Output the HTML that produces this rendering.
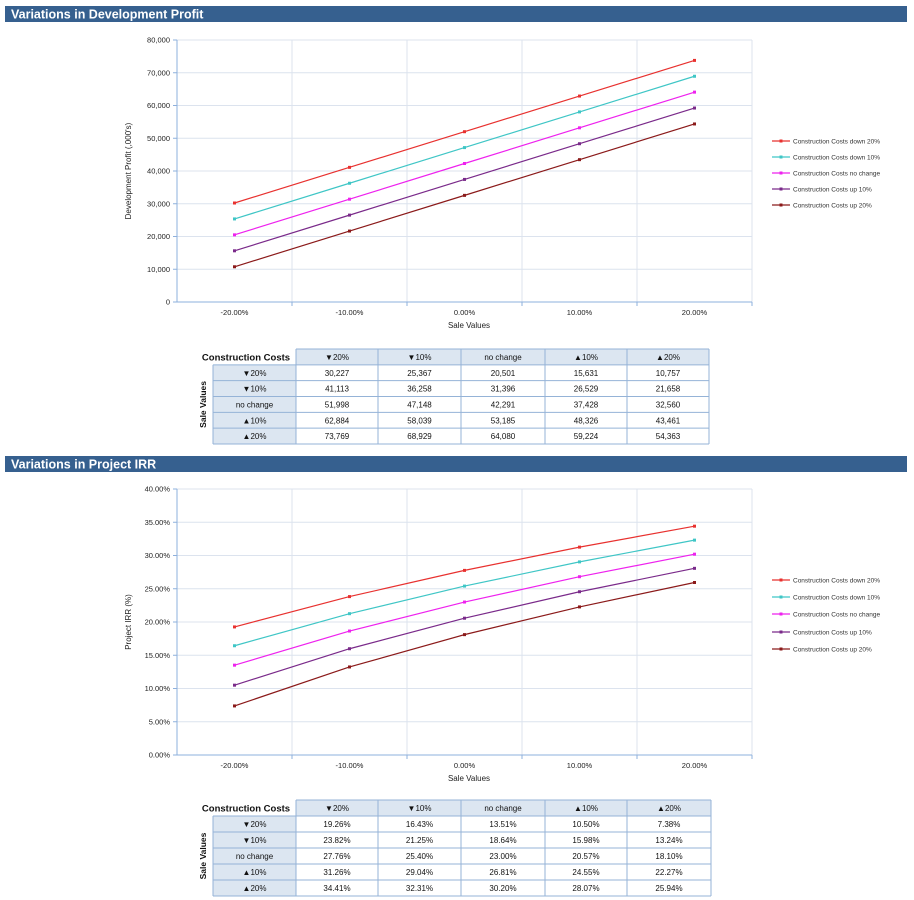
<!DOCTYPE html>
<html><head><meta charset="utf-8"><style>
body{margin:0;background:#fff;width:914px;height:900px;overflow:hidden;font-family:"Liberation Sans",Arial,sans-serif}
svg{position:absolute;left:0;top:0}
</style></head><body>
<svg id="s" width="914" height="900" xmlns="http://www.w3.org/2000/svg" font-family="Liberation Sans, Arial, sans-serif"></svg>
<script>
const categories=["-20.00%","-10.00%","0.00%","10.00%","20.00%"];
const seriesNames=["Construction Costs down 20%","Construction Costs down 10%","Construction Costs no change","Construction Costs up 10%","Construction Costs up 20%"];
const colors=["#e8312f","#3fc6c6","#ee22ee","#7a2a8a","#8b1a1a"];
const profitDown20=[30227,41113,51998,62884,73769];
const profitDown10=[25367,36258,47148,58039,68929];
const profitNoChange=[20501,31396,42291,53185,64080];
const profitUp10=[15631,26529,37428,48326,59224];
const profitUp20=[10757,21658,32560,43461,54363];
const irrDown20=[19.26,23.82,27.76,31.26,34.41];
const irrDown10=[16.43,21.25,25.40,29.04,32.31];
const irrNoChange=[13.51,18.64,23.00,26.81,30.20];
const irrUp10=[10.50,15.98,20.57,24.55,28.07];
const irrUp20=[7.38,13.24,18.10,22.27,25.94];
const profitTicks=[0,10000,20000,30000,40000,50000,60000,70000,80000];
const irrTicks=[0,5,10,15,20,25,30,35,40];
const colHeads=["▼20%","▼10%","no change","▲10%","▲20%"];
const rowHeads=["▼20%","▼10%","no change","▲10%","▲20%"];

const S=document.getElementById('s');const NS="http://www.w3.org/2000/svg";
function mk(t,a,p){const e=document.createElementNS(NS,t);for(const k in a)e.setAttribute(k,a[k]);(p||S).appendChild(e);return e;}
function txt(x,y,s,a,p){const e=mk('text',Object.assign({x:x,y:y},a),p);e.textContent=s;return e;}

function header(y,title,name){
  const g=mk('g',{});
  mk('rect',{x:5,y:y,width:902,height:16,fill:'#36608f'},g);
  txt(11,y+12.5,title,{fill:'#fff','font-size':'12.5','font-weight':'bold'},g);
}
function chart(o){
  const g=mk('g',{});
  const L=177,R=752,T=o.top,B=o.bottom,bw=(R-L)/categories.length;
  const xs=i=>L+bw*(i+0.5);const ys=v=>B-(v-o.ticks[0])/(o.ticks[o.ticks.length-1]-o.ticks[0])*(B-T);
  o.ticks.forEach(t=>{const y=ys(t);
    if(t>o.ticks[0])mk('line',{x1:L,x2:R,y1:y,y2:y,stroke:'#dce3ee','stroke-width':1},g);
    mk('line',{x1:L-4,x2:L,y1:y,y2:y,stroke:'#8eb0dc'},g);
    const tl=txt(170,y+2.5,o.fmt(t),{'text-anchor':'end','font-size':'7.5',fill:'#222'},g);
    });
  for(let i=1;i<=categories.length;i++){const x=L+bw*i;mk('line',{x1:x,x2:x,y1:T,y2:B,stroke:'#dce3ee'},g);mk('line',{x1:x,x2:x,y1:B,y2:B+4,stroke:'#8eb0dc'},g);}
  mk('line',{x1:L,x2:L,y1:T,y2:B,stroke:'#8eb0dc'},g);
  mk('line',{x1:L,x2:R,y1:B,y2:B,stroke:'#8eb0dc'},g);
  categories.forEach((c,i)=>{const tl=txt(xs(i),B+13,c,{'text-anchor':'middle','font-size':'7.5',fill:'#222'},g);
    });
  const xt=txt(469,B+26,'Sale Values',{'text-anchor':'middle','font-size':'8',fill:'#222'},g);
  
  const yc=(T+B)/2;
  const yt=txt(131,yc,o.ytitle,{'text-anchor':'middle','font-size':'8',fill:'#222',transform:`rotate(-90 131 ${yc})`},g);
  
  o.series.forEach((arr,si)=>{
    const pts=arr.map((v,i)=>xs(i)+','+ys(v)).join(' ');
    const pl=mk('polyline',{points:pts,fill:'none',stroke:colors[si],'stroke-width':1.2},g);
    
    arr.forEach((v,i)=>{const m=mk('rect',{x:xs(i)-1.5,y:ys(v)-1.5,width:3,height:3,fill:colors[si]},g);
      });
    const ly=o.legY[si];
    const le=mk('g',{},g);
    mk('line',{x1:772,x2:790,y1:ly,y2:ly,stroke:colors[si],'stroke-width':1.2},le);
    mk('rect',{x:779.5,y:ly-1.5,width:3,height:3,fill:colors[si]},le);
    txt(793,ly+2.3,seriesNames[si],{'font-size':'6.5',fill:'#333'},le);
  });
}
function table(o){
  const g=mk('g',{});
  const cx=[296,378,461,545,627,o.right];const T=o.top,rh=(o.bottom-T)/6;
  mk('rect',{x:296,y:T,width:o.right-296,height:rh,fill:'#dce6f1'},g);
  mk('rect',{x:213,y:T+rh,width:83,height:rh*5,fill:'#dce6f1'},g);
  const ct=txt(246,T+rh/2+3.5,'Construction Costs',{'text-anchor':'middle','font-size':'9.5','font-weight':'bold',fill:'#111'},g);
  
  const sy=T+rh*3.5;
  const sv=txt(206,sy,'Sale Values',{'text-anchor':'middle','font-size':'8.5','font-weight':'bold',fill:'#111',transform:`rotate(-90 206 ${sy})`},g);
  
  for(let r=0;r<=6;r++){const y=T+rh*r;mk('line',{x1:r==0?296:213,x2:o.right,y1:y,y2:y,stroke:'#95b3d7'},g);}
  mk('line',{x1:213,x2:213,y1:T+rh,y2:o.bottom,stroke:'#95b3d7'},g);
  cx.forEach(x=>mk('line',{x1:x,x2:x,y1:T,y2:o.bottom,stroke:'#95b3d7'},g));
  colHeads.forEach((h,c)=>{const t=txt((cx[c]+cx[c+1])/2,T+rh/2+3,h,{'text-anchor':'middle','font-size':'8',fill:'#111'},g);
    });
  rowHeads.forEach((h,r)=>{const t=txt(254.5,T+rh*(r+1)+rh/2+3,h,{'text-anchor':'middle','font-size':'8',fill:'#111'},g);
    });
  for(let r=0;r<5;r++)for(let c=0;c<5;c++){
    const t=txt((cx[c]+cx[c+1])/2,T+rh*(r+1)+rh/2+3,o.fmt(o.series[c][r]),{'text-anchor':'middle','font-size':'8',fill:'#111'},g);
    }
}
const fmtN=v=>Math.round(v).toLocaleString('en-US');
header(6,'Variations in Development Profit','profit-section-header');
chart({name:'profit-chart',top:40,bottom:302,ticks:profitTicks,fmt:fmtN,ytitle:"Development Profit (,000's)",
  series:[profitDown20,profitDown10,profitNoChange,profitUp10,profitUp20],legY:[141,157,173,189,205]});
table({name:'profit-table',top:349,bottom:444,right:709,fmt:fmtN,series:[profitDown20,profitDown10,profitNoChange,profitUp10,profitUp20]});
header(456,'Variations in Project IRR','irr-section-header');
chart({name:'irr-chart',top:489,bottom:755,ticks:irrTicks,fmt:v=>v.toFixed(2)+'%',ytitle:'Project IRR (%)',
  series:[irrDown20,irrDown10,irrNoChange,irrUp10,irrUp20],legY:[580,597,614,632,649]});
table({name:'irr-table',top:800,bottom:896,right:711,fmt:v=>v.toFixed(2)+'%',series:[irrDown20,irrDown10,irrNoChange,irrUp10,irrUp20]});
</script>
</body></html>
